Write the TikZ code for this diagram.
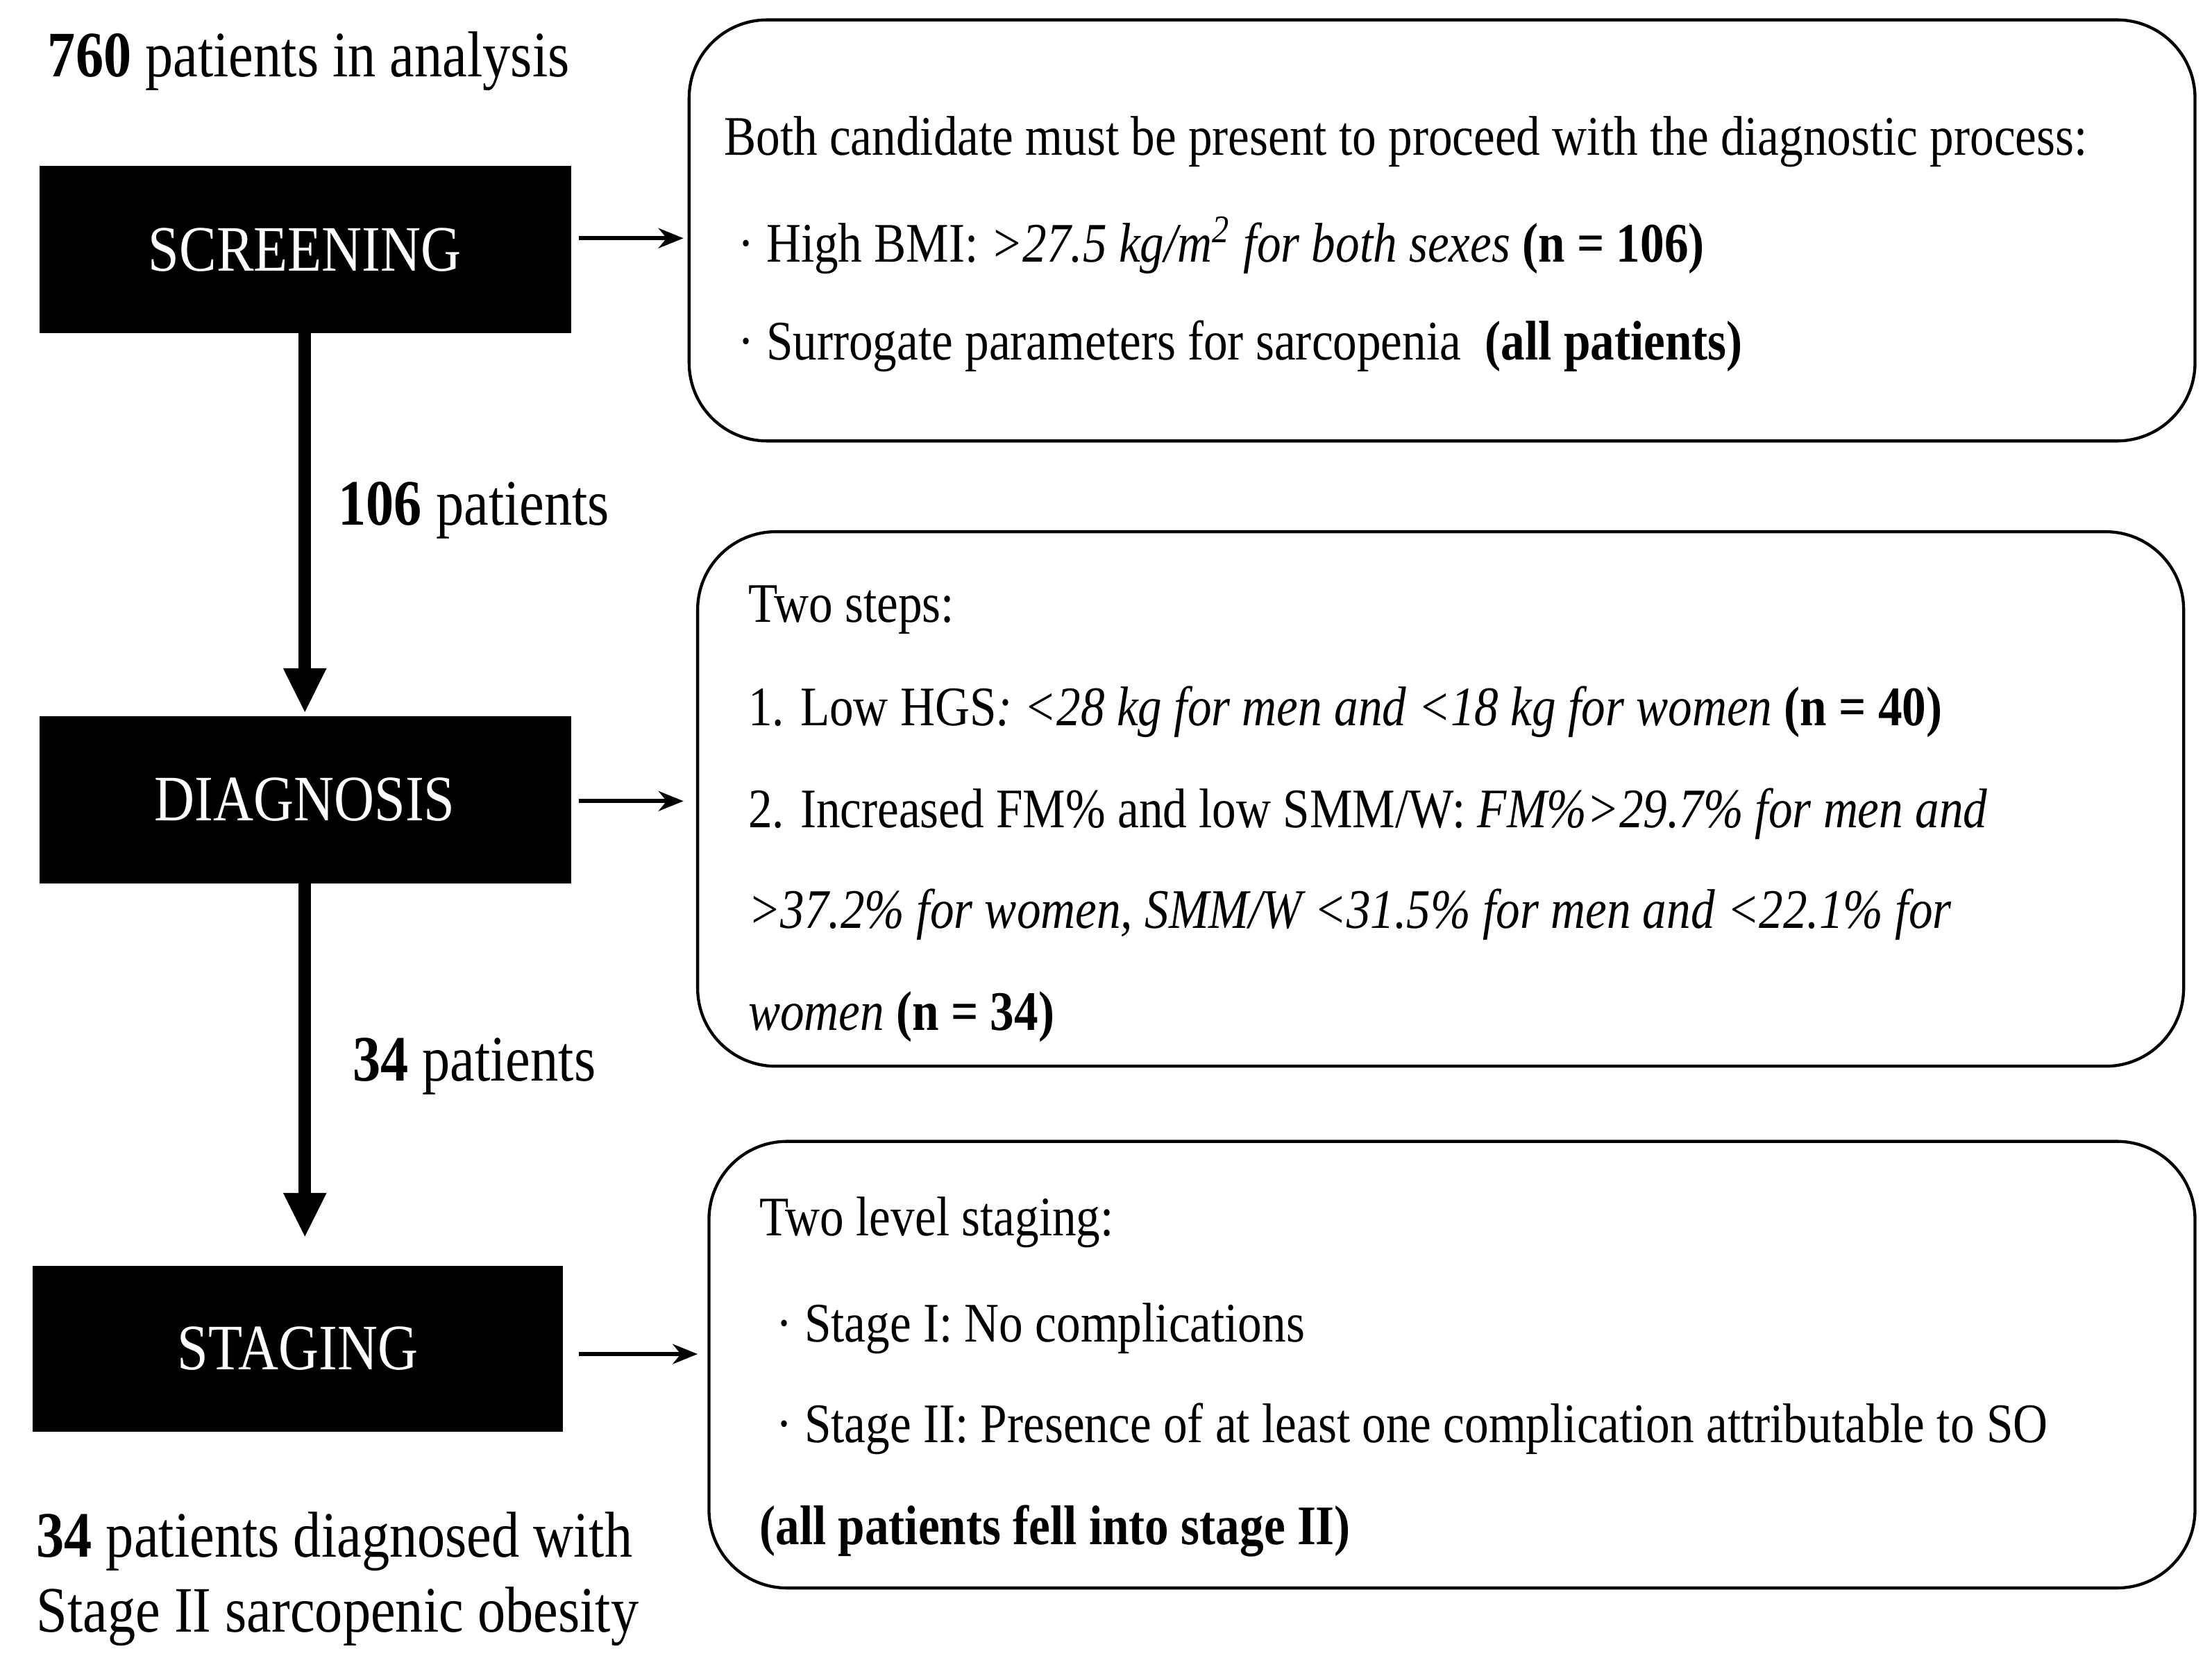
\documentclass[tikz,border=0pt]{standalone}
\usepackage{fontspec}
\setmainfont{Liberation Serif}[FakeStretch=0.86]
\usetikzlibrary{arrows.meta}
\begin{document}
\begin{tikzpicture}[x=0.01cm,y=-0.01cm,
 blk/.style={fill=black,text=white,font=\fontsize{13}{15}\selectfont},
 rbox/.style={draw,rounded corners=0.55cm,line width=0.6pt},
 txt/.style={anchor=west,inner sep=0,font=\fontsize{11.2}{13}\selectfont},
 arr/.style={-{Triangle[width=8pt,length=9pt]},line width=2.5pt},
 harr/.style={-{Stealth[length=5pt,width=4pt]},line width=0.8pt}]
\useasboundingbox (0,0) rectangle (1560,1169);
\fill[blk] (28,117) rectangle (403,235);
\node[blk] (scr) at (215,176) {SCREENING};
\fill[blk] (28,505) rectangle (403,623);
\node[blk] (dia) at (215,564) {DIAGNOSIS};
\fill[blk] (23,893) rectangle (397,1010);
\node[blk] (sta) at (210,951) {STAGING};
\draw[rbox] (486,14) rectangle (1548,311);
\draw[rbox] (492,375) rectangle (1540,752);
\draw[rbox] (500,805) rectangle (1548,1120);
\coordinate (s1) at (215,235); \coordinate (s2) at (215,503);
\coordinate (d1) at (215,623); \coordinate (d2) at (215,873);
\draw[arr] (s1) -- (s2);
\draw[arr] (d1) -- (d2);
\coordinate (a1) at (408,168); \coordinate (b1) at (482,168);
\coordinate (a2) at (408,565); \coordinate (b2) at (482,565);
\coordinate (a3) at (408,955); \coordinate (b3) at (492,955);
\draw[harr] (a1) -- (b1);
\draw[harr] (a2) -- (b2);
\draw[harr] (a3) -- (b3);
\node[txt,font=\fontsize{13}{15}\selectfont] (t0) at (33,43) {\textbf{760} patients in analysis};
\node[txt,font=\fontsize{13}{15}\selectfont] (t1) at (238,360) {\textbf{106} patients};
\node[txt,font=\fontsize{13}{15}\selectfont] (t2) at (248,752) {\textbf{34} patients};
\node[txt,font=\fontsize{13}{15}\selectfont] (t3) at (25,1087) {\textbf{34} patients diagnosed with};
\node[txt,font=\fontsize{13}{15}\selectfont] (t4) at (25,1140) {Stage II sarcopenic obesity};
\node[txt] (l1) at (510,100) {Both candidate must be present to proceed with the diagnostic process:};
\node[txt] (l2) at (520,173) {· High BMI: \textit{>27.5 kg/m\textsuperscript{2} for both sexes} \textbf{(n = 106)}};
\node[txt] (l3) at (520,244) {· Surrogate parameters for sarcopenia \ \textbf{(all patients)}};
\node[txt] (m1) at (527,430) {Two steps:};
\node[txt] (m2) at (527,502) {1. Low HGS\textit{: <28 kg for men and <18 kg for women} \textbf{(n = 40)}};
\node[txt] (m3) at (527,574) {2. Increased FM\% and low SMM/W: \textit{FM\%>29.7\% for men and}};
\node[txt] (m4) at (527,645) {\textit{>37.2\% for women, SMM/W <31.5\% for men and <22.1\% for}};
\node[txt] (m5) at (527,717) {\textit{women} \textbf{(n = 34)}};
\node[txt] (n1) at (535,862) {Two level staging:};
\node[txt] (n2) at (547,937) {· Stage I: No complications};
\node[txt] (n3) at (547,1008) {· Stage II: Presence of at least one complication attributable to SO};
\node[txt] (n4) at (535,1080) {\textbf{(all patients fell into stage II)}};
\end{tikzpicture}
\end{document}
